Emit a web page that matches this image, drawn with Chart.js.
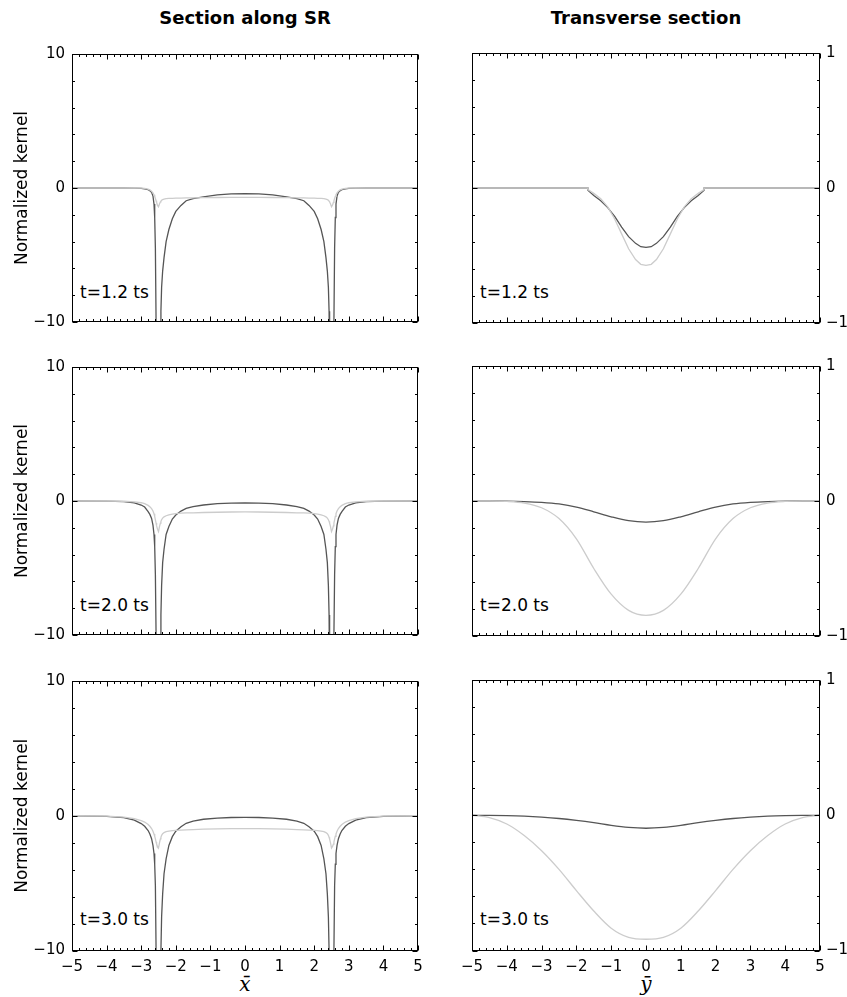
<!DOCTYPE html>
<html><head><meta charset="utf-8">
<script src="https://cdn.jsdelivr.net/npm/chart.js@4.4.1/dist/chart.umd.min.js"></script>
<style>
html,body{margin:0;padding:0;background:#fff;}
body{width:847px;height:997px;position:relative;overflow:hidden;font-family:'DejaVu Sans',sans-serif;}
canvas{position:absolute;}
.t{position:absolute;white-space:nowrap;color:#000;line-height:1;}
</style></head><body>
<div id="texts"></div>
<script>
// ---------- data ----------
const colTitles = ['Section along SR', 'Transverse section'];
const rowLabels = ['t=1.2 ts', 't=2.0 ts', 't=3.0 ts'];
const yTitle = 'Normalized kernel';
const xAxisLabels = ['x\u0304', 'y\u0304'];

const xTickVals = [-5,-4,-3,-2,-1,0,1,2,3,4,5];
const xTickLabels = ['\u22125','\u22124','\u22123','\u22122','\u22121','0','1','2','3','4','5'];
const ySRTickVals = [-10,0,10];
const ySRTickLabels = ['\u221210','0','10'];
const yTRTickVals = [-1,0,1];
const yTRTickLabels = ['\u22121','0','1'];
const ySRMinor = [-8,-6,-4,-2,2,4,6,8];
const yTRMinor = [-0.8,-0.6,-0.4,-0.2,0.2,0.4,0.6,0.8];

// section along SR (left column)
const xSR = [-5,-4,-3.5,-3.2,-3.0,-2.9,-2.8,-2.75,-2.7,-2.66,-2.63,-2.61,-2.59,-2.57,-2.555,-2.53,-2.5,-2.47,-2.445,-2.43,-2.41,-2.38,-2.34,-2.28,-2.2,-2.1,-2.0,-1.85,-1.7,-1.5,-1.2,-0.8,-0.4,
  0,
  0.4,0.8,1.2,1.5,1.7,1.85,2.0,2.1,2.2,2.28,2.34,2.38,2.41,2.43,2.445,2.47,2.5,2.53,2.555,2.57,2.59,2.61,2.63,2.66,2.7,2.75,2.8,2.9,3.0,3.2,3.5,4,5];

const sr12Dark = [0,0,0,-0.01,-0.03,-0.06,-0.13,-0.2,-0.32,-0.6,-1.2,-2.2,-4.5,-10,-16,-30,-40,-30,-14,-9.2,-7.4,-6.2,-5.2,-4.0,-3.1,-2.3,-1.75,-1.3,-0.95,-0.8,-0.66,-0.52,-0.44,
  -0.42,
  -0.44,-0.52,-0.66,-0.8,-0.95,-1.3,-1.75,-2.3,-3.1,-4.0,-5.2,-6.2,-7.4,-9.2,-14,-30,-40,-30,-16,-10,-4.5,-2.2,-1.2,-0.6,-0.32,-0.2,-0.13,-0.06,-0.03,-0.01,0,0,0];
const sr12Light = [0,0,0,0,-0.01,-0.03,-0.08,-0.14,-0.24,-0.36,-0.5,-0.62,-0.78,-0.95,-1.08,-1.27,-1.4,-1.18,-1.04,-0.98,-0.92,-0.87,-0.83,-0.8,-0.78,-0.77,-0.76,-0.75,-0.74,-0.73,-0.72,-0.71,-0.7,
  -0.7,
  -0.7,-0.71,-0.72,-0.73,-0.74,-0.75,-0.76,-0.77,-0.78,-0.8,-0.83,-0.87,-0.92,-0.98,-1.04,-1.18,-1.4,-1.27,-1.08,-0.95,-0.78,-0.62,-0.5,-0.36,-0.24,-0.14,-0.08,-0.03,-0.01,0,0,0,0];

const sr20Dark = [0,-0.01,-0.05,-0.14,-0.3,-0.45,-0.8,-1.0,-1.3,-1.8,-2.5,-3.4,-5.5,-10,-16,-30,-40,-30,-14,-8.5,-6.3,-4.6,-3.6,-2.5,-1.9,-1.35,-1.05,-0.75,-0.55,-0.42,-0.3,-0.2,-0.16,
  -0.15,
  -0.16,-0.2,-0.3,-0.42,-0.55,-0.75,-1.05,-1.35,-1.9,-2.5,-3.6,-4.6,-6.3,-8.5,-14,-30,-40,-30,-16,-10,-5.5,-3.4,-2.5,-1.8,-1.3,-1.0,-0.8,-0.45,-0.3,-0.14,-0.05,-0.01,0];
const sr20Light = [0,0,-0.02,-0.06,-0.13,-0.2,-0.33,-0.43,-0.57,-0.75,-0.95,-1.15,-1.4,-1.65,-1.85,-2.1,-2.28,-1.9,-1.65,-1.52,-1.4,-1.28,-1.18,-1.1,-1.03,-0.98,-0.94,-0.91,-0.89,-0.88,-0.86,-0.84,-0.82,
  -0.81,
  -0.82,-0.84,-0.86,-0.88,-0.89,-0.91,-0.94,-0.98,-1.03,-1.1,-1.18,-1.28,-1.4,-1.52,-1.65,-1.9,-2.28,-2.1,-1.85,-1.65,-1.4,-1.15,-0.95,-0.75,-0.57,-0.43,-0.33,-0.2,-0.13,-0.06,-0.02,0,0];

const sr30Dark = [-0.01,-0.04,-0.14,-0.33,-0.58,-0.78,-1.1,-1.35,-1.7,-2.2,-2.8,-3.6,-5.2,-10,-16,-30,-40,-30,-14,-10,-7.5,-5.8,-4.3,-3.2,-2.2,-1.55,-1.15,-0.82,-0.56,-0.4,-0.26,-0.17,-0.13,
  -0.12,
  -0.13,-0.17,-0.26,-0.4,-0.56,-0.82,-1.15,-1.55,-2.2,-3.2,-4.3,-5.8,-7.5,-10,-14,-30,-40,-30,-16,-10,-5.2,-3.6,-2.8,-2.2,-1.7,-1.35,-1.1,-0.78,-0.58,-0.33,-0.14,-0.04,-0.01];
const sr30Light = [0,-0.03,-0.1,-0.22,-0.36,-0.47,-0.65,-0.78,-0.95,-1.15,-1.35,-1.52,-1.72,-1.95,-2.1,-2.28,-2.4,-2.0,-1.72,-1.6,-1.45,-1.33,-1.25,-1.18,-1.14,-1.1,-1.08,-1.06,-1.05,-1.03,-1.0,-0.98,-0.96,
  -0.96,
  -0.96,-0.98,-1.0,-1.03,-1.05,-1.06,-1.08,-1.1,-1.14,-1.18,-1.25,-1.33,-1.45,-1.6,-1.72,-2.0,-2.4,-2.28,-2.1,-1.95,-1.72,-1.52,-1.35,-1.15,-0.95,-0.78,-0.65,-0.47,-0.36,-0.22,-0.1,-0.03,0];

// transverse section (right column)
const xTR12 = [-5,-1.67,-1.67,-1.5,-1.3,-1.1,-0.9,-0.7,-0.5,-0.3,-0.15,0,0.15,0.3,0.5,0.7,0.9,1.1,1.3,1.5,1.67,1.67,5];
const tr12Dark = [0,0,-0.017,-0.055,-0.095,-0.145,-0.21,-0.29,-0.36,-0.41,-0.435,-0.44,-0.435,-0.41,-0.36,-0.29,-0.21,-0.145,-0.095,-0.055,-0.017,0,0];
const tr12Light = [0,0,-0.012,-0.04,-0.08,-0.14,-0.23,-0.34,-0.45,-0.53,-0.565,-0.573,-0.565,-0.53,-0.45,-0.34,-0.23,-0.14,-0.08,-0.04,-0.012,0,0];

const xTR = [-5,-4.5,-4,-3.5,-3,-2.5,-2,-1.5,-1,-0.5,0,0.5,1,1.5,2,2.5,3,3.5,4,4.5,5];
const tr20Dark = [0,0,-0.001,-0.004,-0.01,-0.022,-0.045,-0.08,-0.117,-0.146,-0.156,-0.146,-0.117,-0.08,-0.045,-0.022,-0.01,-0.004,-0.001,0,0];
const tr20Light = [0,0,-0.003,-0.015,-0.05,-0.13,-0.28,-0.5,-0.69,-0.81,-0.847,-0.81,-0.69,-0.5,-0.28,-0.13,-0.05,-0.015,-0.003,0,0];
const tr30Dark = [0,-0.001,-0.003,-0.007,-0.014,-0.024,-0.038,-0.055,-0.075,-0.09,-0.096,-0.09,-0.075,-0.055,-0.038,-0.024,-0.014,-0.007,-0.003,-0.001,0];
const tr30Light = [0,-0.018,-0.065,-0.15,-0.262,-0.4,-0.557,-0.708,-0.835,-0.903,-0.917,-0.903,-0.835,-0.708,-0.557,-0.4,-0.262,-0.15,-0.065,-0.018,0];

// ---------- layout / style ----------
const DARK = '#555555', LIGHT = '#cccccc';
const colPlotLeft = [72, 472], colPlotRight = [418, 820];
const rowPlotTop = [52, 365.5, 679], plotH = 271.5;

Chart.defaults.font.family = "'DejaVu Sans', sans-serif";
Chart.defaults.font.size = 15;
Chart.defaults.color = '#000';

const xMinor = [];
for (let i = -25; i <= 25; i++) { if (i % 5 !== 0) xMinor.push(i / 5); }

const frameTicks = {
  id: 'frameTicks',
  afterDatasetsDraw(chart, args, o) {
    const {ctx, chartArea: a} = chart;
    const xs = chart.scales.x, ys = chart.scales.y;
    const L = Math.round(a.left) + 0.5, R = Math.round(a.right) - 0.5;
    const T = Math.round(a.top) + 0.5, B = Math.round(a.bottom) - 0.5;
    ctx.save();
    ctx.strokeStyle = '#000';
    ctx.lineWidth = 1;
    ctx.beginPath();
    const xt = (vals, len) => vals.forEach(v => {
      const p = Math.round(xs.getPixelForValue(v)) + 0.5;
      ctx.moveTo(p, B); ctx.lineTo(p, B - len);
      ctx.moveTo(p, T); ctx.lineTo(p, T + len);
    });
    const yt = (vals, len) => vals.forEach(v => {
      const p = Math.round(ys.getPixelForValue(v)) + 0.5;
      ctx.moveTo(L, p); ctx.lineTo(L + len, p);
      ctx.moveTo(R, p); ctx.lineTo(R - len, p);
    });
    xt(xMinor, 2.5); xt(xTickVals, 5);
    yt(o.yMinor, 2.5); yt(o.yMajor, 5);
    ctx.stroke();
    ctx.strokeRect(L, T, R - L, B - T);
    ctx.restore();
  }
};

const panels = [
  {col:0,row:0,xs:xSR,dark:sr12Dark,light:sr12Light},
  {col:1,row:0,xs:xTR12,dark:tr12Dark,light:tr12Light},
  {col:0,row:1,xs:xSR,dark:sr20Dark,light:sr20Light},
  {col:1,row:1,xs:xTR,dark:tr20Dark,light:tr20Light},
  {col:0,row:2,xs:xSR,dark:sr30Dark,light:sr30Light},
  {col:1,row:2,xs:xTR,dark:tr30Dark,light:tr30Light},
];

const body = document.body;
panels.forEach(p => {
  const isBottom = p.row === 2;
  const isLeft = p.col === 0;
  const xAxisH = isBottom ? 30 : 0;
  const plotTop = rowPlotTop[p.row];
  const cTop = Math.floor(plotTop) - 14;
  const cH = isBottom ? 321 : 300;
  const cLeft = isLeft ? 0 : 450;
  const cW = isLeft ? 440 : 397;
  const padTop = plotTop - cTop;
  const padBottom = cH - padTop - plotH - xAxisH;
  const cv = document.createElement('canvas');
  cv.width = cW; cv.height = cH;
  cv.style.left = cLeft + 'px'; cv.style.top = cTop + 'px';
  cv.style.width = cW + 'px'; cv.style.height = cH + 'px';
  body.appendChild(cv);

  const yVals = isLeft ? ySRTickVals : yTRTickVals;
  const yLabs = isLeft ? ySRTickLabels : yTRTickLabels;
  const toPts = arr => arr.map((y, i) => ({x: p.xs[i], y}));
  const smooth = !isLeft && p.row > 0;
  const ds = (arr, color) => ({
    data: toPts(arr), borderColor: color, borderWidth: 1.3, pointRadius: 0,
    tension: 0, cubicInterpolationMode: smooth ? 'monotone' : 'default', fill: false
  });

  new Chart(cv, {
    type: 'line',
    data: { datasets: [ds(p.light, LIGHT), ds(p.dark, DARK)] },
    options: {
      responsive: false, animation: false, devicePixelRatio: 1, events: [],
      layout: { padding: { top: padTop, bottom: padBottom,
        left: isLeft ? 0 : colPlotLeft[1] - cLeft,
        right: isLeft ? cW - colPlotRight[0] : 0 } },
      plugins: { legend: {display:false}, tooltip: {enabled:false},
        frameTicks: { yMajor: yVals, yMinor: isLeft ? ySRMinor : yTRMinor } },
      scales: {
        x: {
          type: 'linear', min: -5, max: 5, display: isBottom,
          grid: {display:false, drawTicks:false}, border: {display:false},
          afterBuildTicks: s => { s.ticks = xTickVals.map(v => ({value: v})); },
          ticks: { autoSkip:false, maxRotation:0, minRotation:0, padding: 8,
            font: {size: 15}, callback: v => xTickLabels[xTickVals.indexOf(v)] },
          afterFit: s => { s.height = xAxisH; }
        },
        y: {
          type: 'linear', min: yVals[0], max: yVals[yVals.length-1],
          position: isLeft ? 'left' : 'right',
          grid: {display:false, drawTicks:false}, border: {display:false},
          afterBuildTicks: s => { s.ticks = yVals.map(v => ({value: v})); },
          ticks: { autoSkip:false, padding: isLeft ? 7 : 6, font:{size:15},
            callback: v => yLabs[yVals.indexOf(v)] },
          title: isLeft ? { display:true, text: yTitle, font:{size:17}, color:'#000',
            padding:{top:12, bottom:0} } : {display:false},
          afterFit: s => { s.width = isLeft ? colPlotLeft[0] : cW - (colPlotRight[1] - cLeft); }
        }
      }
    },
    plugins: [frameTicks]
  });
});

// ---------- HTML text ----------
const texts = document.getElementById('texts');
function addText(str, css) {
  const d = document.createElement('div');
  d.className = 't';
  d.textContent = str;
  Object.assign(d.style, css);
  texts.appendChild(d);
}
colTitles.forEach((s, c) => {
  const cx = (colPlotLeft[c] + colPlotRight[c]) / 2;
  addText(s, {left:(cx-200)+'px', width:'400px', textAlign:'center', top:'9px',
    fontSize:'18px', fontWeight:'bold'});
});
rowLabels.forEach((s, r) => {
  const base = rowPlotTop[r] + plotH - 25.5;
  [0,1].forEach(c => addText(s, {left:(colPlotLeft[c]+8)+'px', top:(base - 0.846*17)+'px', fontSize:'17px'}));
});
xAxisLabels.forEach((s, c) => {
  const cx = (colPlotLeft[c] + colPlotRight[c]) / 2;
  addText(s, {left:(cx-50)+'px', width:'100px', textAlign:'center', top:'974px',
    fontSize:'20px', fontStyle:'italic', fontFamily:"'DejaVu Serif', serif"});
});
</script>
</body></html>
